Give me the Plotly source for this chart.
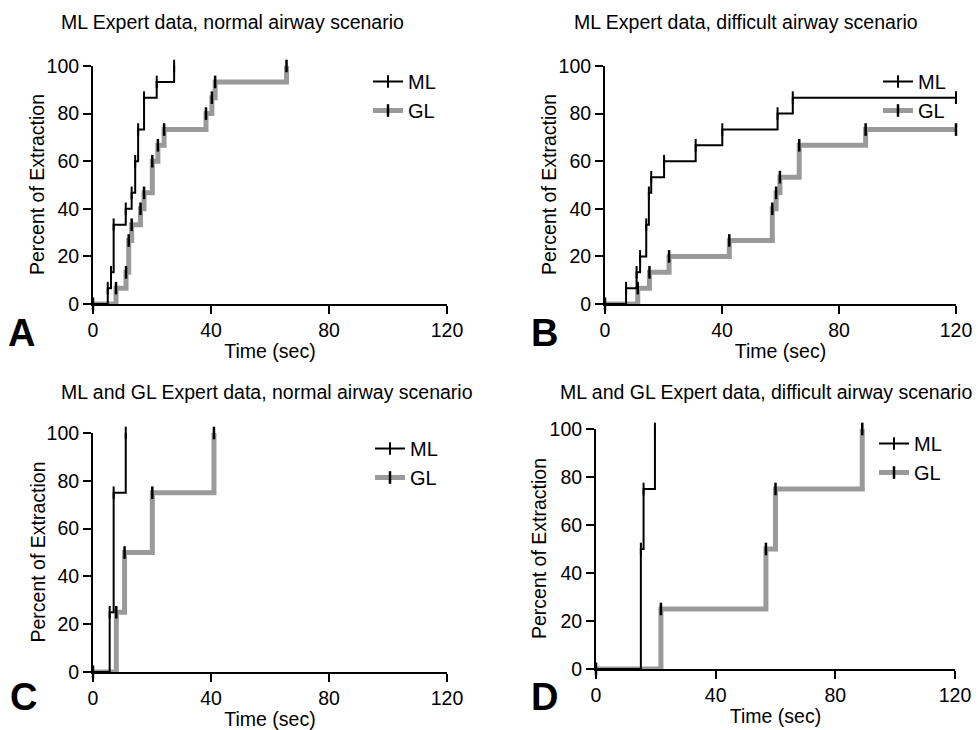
import plotly.graph_objects as go

# ---------------- data ----------------
# Panel A: ML Expert data, normal airway scenario
a_ml_t = [0, 5.0, 6.1, 7.0, 11.1, 13.1, 14.3, 15.3, 17.3, 21.6, 27.5]
a_ml_p = [0, 6.67, 13.3, 33.3, 40, 46.7, 60, 73.3, 86.7, 93.3, 100]
a_gl_t = [0, 7.8, 11.2, 12.1, 13.1, 16.1, 17.3, 20.1, 22.0, 24.1, 38.3, 40.3, 41.4, 65.6]
a_gl_p = [0, 6.67, 13.3, 26.7, 33.3, 40, 46.7, 60, 66.7, 73.3, 80, 86.7, 93.3, 100]

# Panel B: ML Expert data, difficult airway scenario
b_ml_t = [0, 7.2, 10.8, 12.0, 14.1, 15.0, 15.8, 20.2, 31.0, 40.1, 59.0, 64.2, 120]
b_ml_p = [0, 6.67, 13.3, 20, 33.3, 46.7, 53.3, 60, 66.7, 73.3, 80, 86.7, 86.7]
b_gl_t = [0, 11.2, 15.2, 21.9, 42.5, 57.2, 58.5, 59.8, 66.4, 89.1, 120]
b_gl_p = [0, 6.67, 13.3, 20, 26.7, 40, 46.7, 53.3, 66.7, 73.3, 73.3]

# Panel C: ML and GL Expert data, normal airway scenario
c_ml_t = [0, 5.65, 7.0, 11.1]
c_ml_p = [0, 25, 75, 100]
c_gl_t = [0, 7.9, 10.7, 20.1, 41.0]
c_gl_p = [0, 25, 50, 75, 100]

# Panel D: ML and GL Expert data, difficult airway scenario
d_ml_t = [0, 15.0, 15.9, 19.7]
d_ml_p = [0, 50, 75, 100]
d_gl_t = [0, 21.7, 56.8, 60.0, 89.0]
d_gl_p = [0, 25, 50, 75, 100]

titles = ["ML Expert data, normal airway scenario",
          "ML Expert data, difficult airway scenario",
          "ML and GL Expert data, normal airway scenario",
          "ML and GL Expert data, difficult airway scenario"]
letters = ["A", "B", "C", "D"]
x_ticks = [0, 40, 80, 120]
y_ticks = [0, 20, 40, 60, 80, 100]

# ---------------- layout geometry (pixels) ----------------
W, H = 978, 730
FONT = "Liberation Sans, Arial, Helvetica, sans-serif"
FS = 19.5

# plot boxes: (left, right, top, bottom)
boxes = [(93, 447, 66, 304), (605, 956, 66, 304),
         (93, 447, 433, 672), (596, 955, 429, 669)]
title_pos = [(59, 22), (572, 22), (59, 392), (558, 392)]
letter_pos = [(6, 333), (529, 333), (8, 697), (529, 697)]
legend_pos = [(368, 62), (878, 62), (370, 429), (874, 424)]
ytitle_x = [37, 549, 37, 539]

series = [(a_ml_t, a_ml_p, a_gl_t, a_gl_p),
          (b_ml_t, b_ml_p, b_gl_t, b_gl_p),
          (c_ml_t, c_ml_p, c_gl_t, c_gl_p),
          (d_ml_t, d_ml_p, d_gl_t, d_gl_p)]

fig = go.Figure()
layout = dict(width=W, height=H, margin=dict(l=0, r=0, t=0, b=0),
              paper_bgcolor="white", plot_bgcolor="white",
              font=dict(family=FONT, size=FS, color="black"),
              annotations=[])

for i, (mlt, mlp, glt, glp) in enumerate(series):
    n = i + 1
    xa = "x" if n == 1 else f"x{n}"
    ya = "y" if n == 1 else f"y{n}"
    lg = "legend" if n == 1 else f"legend{n}"
    fig.add_trace(go.Scatter(
        x=glt, y=glp, name="GL", mode="lines+markers",
        line=dict(color="#9a9a9a", width=5, shape="hv"),
        marker=dict(symbol="line-ns", size=9, line=dict(color="black", width=2.5)),
        xaxis=xa, yaxis=ya, legend=lg, legendrank=2, cliponaxis=False,
        hoverinfo="skip"))
    fig.add_trace(go.Scatter(
        x=mlt, y=mlp, name="ML", mode="lines+markers",
        line=dict(color="black", width=2, shape="hv"),
        marker=dict(symbol="line-ns", size=9, line=dict(color="black", width=2)),
        xaxis=xa, yaxis=ya, legend=lg, legendrank=1, cliponaxis=False,
        hoverinfo="skip"))

    l, r, t, b = boxes[i]
    axcommon = dict(showline=True, linewidth=2, linecolor="black",
                    ticks="outside", ticklen=8, tickwidth=2, tickcolor="black",
                    showgrid=False, zeroline=False, automargin=False,
                    tickfont=dict(family=FONT, size=FS, color="black"))
    layout["xaxis" if n == 1 else f"xaxis{n}"] = dict(
        axcommon, domain=[l / W, r / W], range=[0, 120], tickvals=x_ticks,
        anchor=ya, title=dict(text="Time (sec)", standoff=4,
                              font=dict(family=FONT, size=FS, color="black")))
    layout["yaxis" if n == 1 else f"yaxis{n}"] = dict(
        axcommon, domain=[1 - b / H, 1 - t / H], range=[0, 100], tickvals=y_ticks,
        anchor=xa)
    layout["annotations"].append(dict(
        text="Percent of Extraction", textangle=-90,
        x=ytitle_x[i] / W, y=1 - ((t + b) / 2) / H, xref="paper", yref="paper",
        xanchor="center", yanchor="middle", showarrow=False,
        font=dict(family=FONT, size=FS, color="black")))
    lx, ly = legend_pos[i]
    layout[lg] = dict(x=lx / W, y=1 - ly / H, xanchor="left", yanchor="top",
                      bgcolor="rgba(0,0,0,0)", borderwidth=0,
                      font=dict(family=FONT, size=20, color="black"),
                      tracegroupgap=0, itemwidth=30)
    tx, ty = title_pos[i]
    layout["annotations"].append(dict(
        text=titles[i], x=tx / W, y=1 - ty / H, xref="paper", yref="paper",
        xanchor="left", yanchor="middle", showarrow=False,
        font=dict(family=FONT, size=FS, color="black")))
    lx2, ly2 = letter_pos[i]
    layout["annotations"].append(dict(
        text=f"<b>{letters[i]}</b>", x=lx2 / W, y=1 - ly2 / H, xref="paper", yref="paper",
        xanchor="left", yanchor="middle", showarrow=False,
        font=dict(family=FONT, size=38, color="black")))

fig.update_layout(**layout)
fig.write_html("out.html",
               config={"displayModeBar": False, "staticPlot": True},
               post_script="document.body.style.margin='0';document.body.style.overflow='hidden';")
